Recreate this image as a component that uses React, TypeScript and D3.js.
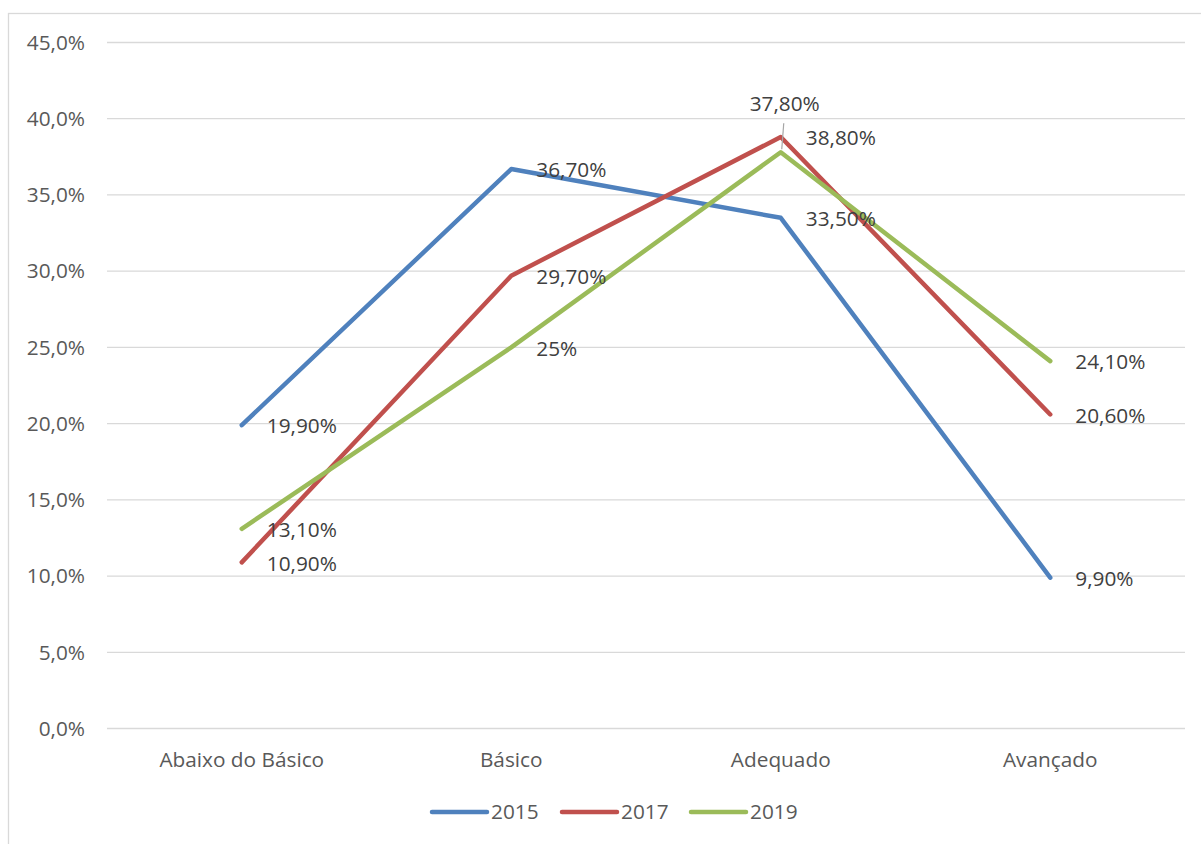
import React, {useEffect, useRef} from 'react';
import * as d3 from "d3";

const categories = ["Abaixo do Básico", "Básico", "Adequado", "Avançado"];
const years = ["2015", "2017", "2019"];
const values2015 = [19.9, 36.7, 33.5, 9.9];
const values2017 = [10.9, 29.7, 38.8, 20.6];
const values2019 = [13.1, 25.0, 37.8, 24.1];
const labels2015 = ["19,90%", "36,70%", "33,50%", "9,90%"];
const labels2017 = ["10,90%", "29,70%", "38,80%", "20,60%"];
const labels2019 = ["13,10%", "25%", "37,80%", "24,10%"];
const yTicks = [0, 5, 10, 15, 20, 25, 30, 35, 40, 45];

const colors: Record<string, string> = {"2015": "#4F81BD", "2017": "#C0504D", "2019": "#9BBB59"};
const FONT = "'Open Sans', sans-serif";
const FS = 20.8;

export default function App() {
    const svgRef = useRef<SVGSVGElement>(null);

    useEffect(() => {
        document.body.style.margin = "0";
        const svg = d3.select(svgRef.current);
        svg.selectAll("*").remove();

        const margin = {left: 107, right: 1185, top: 42.5, bottom: 728.5};

        const x = d3.scaleBand()
            .domain(categories)
            .range([margin.left, margin.right]);
        const y = d3.scaleLinear()
            .domain([0, 45])
            .range([margin.bottom, margin.top]);
        const cx = (c: string) => (x(c) as number) + x.bandwidth() / 2;

        // chart frame
        svg.append("rect")
            .attr("x", 8.5).attr("y", 13.5)
            .attr("width", 1200).attr("height", 840)
            .attr("fill", "white")
            .attr("stroke", "#D9D9D9")
            .attr("stroke-width", 1.3);

        // grid
        svg.append("g")
            .selectAll("line")
            .data(yTicks)
            .join("line")
            .attr("x1", margin.left).attr("x2", margin.right)
            .attr("y1", d => y(d)).attr("y2", d => y(d))
            .attr("stroke", "#D9D9D9")
            .attr("stroke-width", 1.3);

        // y axis labels
        svg.append("g")
            .selectAll("text")
            .data(yTicks)
            .join("text")
            .attr("x", 85)
            .attr("y", d => y(d))
            .attr("dy", "0.35em")
            .attr("text-anchor", "end")
            .attr("font-family", FONT)
            .attr("font-size", FS)
            .attr("fill", "#595959")
            .text(d => d.toFixed(1).replace(".", ",") + "%");

        // x axis labels
        svg.append("g")
            .selectAll("text")
            .data(categories)
            .join("text")
            .attr("x", d => cx(d))
            .attr("y", 760)
            .attr("dy", "0.35em")
            .attr("text-anchor", "middle")
            .attr("font-family", FONT)
            .attr("font-size", FS)
            .attr("fill", "#595959")
            .text(d => d);

        const series = [
            {key: "2015", values: values2015, labels: labels2015},
            {key: "2017", values: values2017, labels: labels2017},
            {key: "2019", values: values2019, labels: labels2019},
        ];

        const line = d3.line<number>()
            .x((_, i) => cx(categories[i]))
            .y(d => y(d));

        svg.append("g")
            .selectAll("path")
            .data(series)
            .join("path")
            .attr("d", s => line(s.values))
            .attr("fill", "none")
            .attr("stroke", s => colors[s.key])
            .attr("stroke-width", 4.5)
            .attr("stroke-linecap", "round")
            .attr("stroke-linejoin", "round");

        // data labels, right of points; 37,80% sits above with a leader line
        const labelG = svg.append("g");
        series.forEach(s => {
            s.values.forEach((v, i) => {
                const px = cx(categories[i]);
                const py = y(v);
                const above = s.key === "2019" && i === 2;
                if (above) {
                    labelG.append("line")
                        .attr("x1", px + 1).attr("y1", py - 3)
                        .attr("x2", px + 3).attr("y2", py - 29)
                        .attr("stroke", "#A6A6A6")
                        .attr("stroke-width", 1.2);
                }
                labelG.append("text")
                    .attr("x", above ? px + 4 : px + 25)
                    .attr("y", above ? py - 49 : py + 1)
                    .attr("dy", "0.35em")
                    .attr("text-anchor", above ? "middle" : "start")
                    .attr("font-family", FONT)
                    .attr("font-size", FS)
                    .attr("fill", "#404040")
                    .text(s.labels[i]);
            });
        });

        // legend
        const legendX = [432, 562, 691];
        const legend = svg.append("g");
        years.forEach((yr, i) => {
            legend.append("line")
                .attr("x1", legendX[i]).attr("x2", legendX[i] + 55)
                .attr("y1", 812).attr("y2", 812)
                .attr("stroke", colors[yr])
                .attr("stroke-width", 4.5)
                .attr("stroke-linecap", "round");
            legend.append("text")
                .attr("x", legendX[i] + 59)
                .attr("y", 812)
                .attr("dy", "0.35em")
                .attr("font-family", FONT)
                .attr("font-size", FS)
                .attr("fill", "#595959")
                .text(yr);
        });
    }, []);

    return (
        <svg ref={svgRef} width={1201} height={844} style={{display: "block"}}/>
    );
}
